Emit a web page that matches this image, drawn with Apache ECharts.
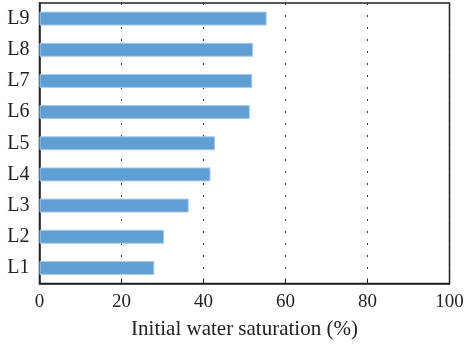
<!DOCTYPE html>
<html>
<head>
<meta charset="utf-8">
<script src="https://cdn.jsdelivr.net/npm/echarts@6/dist/echarts.min.js"></script>
<style>
  html, body { margin: 0; padding: 0; background: #fff; }
  #chart { width: 465px; height: 346px; }
</style>
</head>
<body>
<div id="chart"></div>
<script>
// Layers, bottom to top
const layers = ['L1', 'L2', 'L3', 'L4', 'L5', 'L6', 'L7', 'L8', 'L9'];
// Initial water saturation per layer (%)
const saturation = [28.0, 30.4, 36.4, 41.7, 42.8, 51.3, 51.9, 52.1, 55.4];
const xTicks = [0, 20, 40, 60, 80, 100];

const serif = '"Liberation Serif", "DejaVu Serif", serif';
const chart = echarts.init(document.getElementById('chart'));

chart.setOption({
  animation: false,
  backgroundColor: '#fff',
  grid: {
    left: 39.5, right: 15.5, top: 3, bottom: 62.5,
    outerBoundsMode: 'none',
    containLabel: false,
    show: true, borderColor: '#222', borderWidth: 1.5,
    backgroundColor: 'transparent'
  },
  xAxis: {
    type: 'value',
    min: xTicks[0],
    max: xTicks[xTicks.length - 1],
    interval: xTicks[1] - xTicks[0],
    name: 'Initial water saturation (%)',
    nameLocation: 'middle',
    nameGap: 35,
    nameTextStyle: { fontFamily: serif, fontSize: 21, color: '#222' },
    axisLine: { show: true, lineStyle: { color: '#222', width: 1.5 } },
    axisTick: { show: true, inside: true, length: 5, lineStyle: { color: '#222' } },
    axisLabel: { fontFamily: serif, fontSize: 19, color: '#222', margin: 9 },
    splitLine: { show: true, lineStyle: { color: '#333', width: 1, type: [2, 10] } }
  },
  yAxis: {
    type: 'category',
    data: layers,
    axisLine: { show: true, lineStyle: { color: '#222', width: 1.5 } },
    axisTick: { show: false },
    axisLabel: { fontFamily: serif, fontSize: 20, color: '#222', margin: 10 },
    splitLine: { show: false }
  },
  series: [{
    type: 'bar',
    data: saturation,
    barWidth: 14,
    itemStyle: { color: '#5f9fd4', borderColor: '#a9cbea', borderWidth: 1 }
  }]
});
</script>
</body>
</html>
